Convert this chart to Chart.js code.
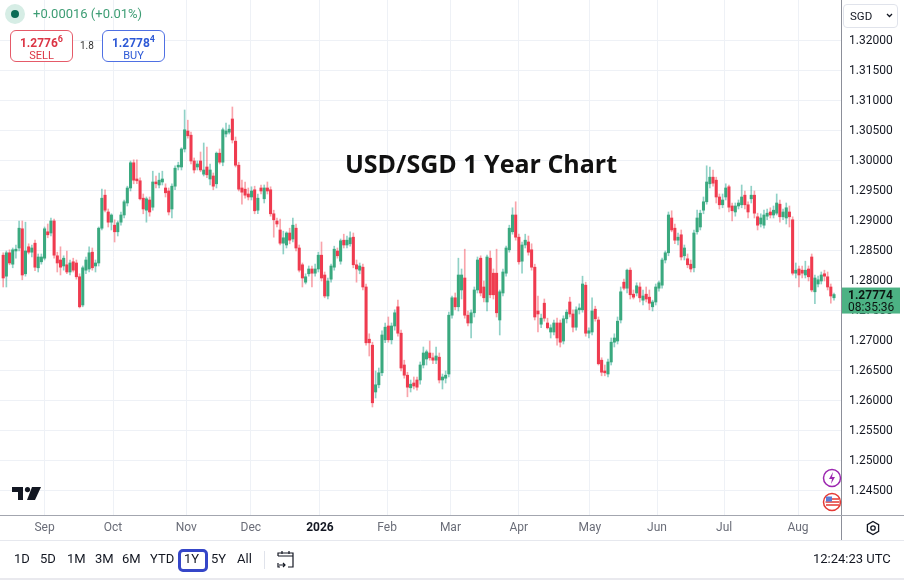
<!DOCTYPE html>
<html>
<head>
<meta charset="utf-8">
<title>USD/SGD 1 Year Chart</title>
<script src="https://cdn.jsdelivr.net/npm/chart.js@4.4.1/dist/chart.umd.min.js"></script>
<style>
  html, body { margin: 0; padding: 0; background: #fff; }
  body { font-family: Roboto, "Noto Sans", Arial, sans-serif; color: #131722; }
  #wrap { position: relative; width: 904px; height: 580px; overflow: hidden; }
  #chart { position: absolute; left: 0; top: 0; }
  .abs { position: absolute; white-space: nowrap; }
  .title { left: 0; width: 962px; top: 146px; text-align: center; font: 700 25px "Open Sans", "Noto Sans", sans-serif; color: #111; }
  .halo { left: 5px; top: 4px; width: 20px; height: 20px; border-radius: 50%; background: #d6ede5; }
  .dot { left: 11px; top: 10px; width: 8px; height: 8px; border-radius: 50%; background: #0b6b55; }
  .chg { left: 33px; top: 6px; font-size: 13px; color: #3d9d74; }
  .box { top: 30px; width: 61px; height: 30px; border-radius: 6px; background: #fff; text-align: center; }
  .box .p { margin-top: 3px; font-size: 12px; font-weight: 700; }
  .box .p sup { font-size: 9px; font-weight: 700; }
  .box .l { font-size: 11px; margin-top: -1px; }
  .sell { left: 10px; border: 1px solid #e55a68; color: #dc3545; }
  .buy { left: 102px; border: 1px solid #4f70e3; color: #2d59d6; }
  .spread { left: 80px; top: 40px; font-size: 10px; color: #333; }
  .ccy { left: 843px; top: 4px; width: 53px; height: 22px; border: 1px solid #e0e3eb; border-radius: 4px; font-size: 11.5px; }
  .ccy span { position: absolute; left: 6px; top: 4px; }
  .vline { left: 841px; top: 0; width: 1px; height: 540px; background: #8c8f99; }
  .hline { left: 0; top: 515px; width: 904px; height: 1px; background: #a3a6af; }
  .sep { left: 0; top: 540px; width: 904px; height: 1px; background: #e6e8ee; }
  .foot { left: 0; top: 578px; width: 904px; height: 2px; background: #e9e9ee; }
  .tb { top: 551px; font-size: 13px; color: #131722; }
  .range { left: 178px; top: 549px; width: 24px; height: 17px; border: 3px solid #3546c8; border-radius: 5px; }
  .tsep { left: 264px; top: 551px; width: 1px; height: 18px; background: #e0e3eb; }
  .clock { left: 813px; top: 551px; font-size: 13px; color: #131722; }
</style>
</head>
<body>
<div id="wrap">
  <canvas id="chart" width="904" height="540"></canvas>

  <div class="abs title">USD/SGD 1 Year Chart</div>

  <div class="abs halo"></div>
  <div class="abs dot"></div>
  <div class="abs chg">+0.00016 (+0.01%)</div>

  <div class="abs box sell"><div class="p">1.2776<sup>6</sup></div><div class="l">SELL</div></div>
  <div class="abs spread">1.8</div>
  <div class="abs box buy"><div class="p">1.2778<sup>4</sup></div><div class="l">BUY</div></div>

  <div class="abs ccy"><span>SGD</span>
    <svg class="abs" style="left:42px;top:8px" width="7" height="5" viewBox="0 0 7 5"><path d="M1 1l2.5 2.5L6 1" fill="none" stroke="#131722" stroke-width="1.3"/></svg>
  </div>

  <div class="abs vline"></div>
  <div class="abs hline"></div>
  <div class="abs sep"></div>
  <div class="abs foot"></div>

  <!-- logo -->
  <svg class="abs" style="left:12px;top:487px" width="30" height="14" viewBox="0 0 30 14">
    <path d="M0 0h11v13H6V5H0z" fill="#131722"/>
    <circle cx="15.5" cy="2.6" r="2.6" fill="#131722"/>
    <path d="M20 0h9l-6 13h-8z" fill="#131722"/>
  </svg>

  <!-- event icons -->
  <svg class="abs" style="left:822px;top:468px" width="20" height="20" viewBox="0 0 20 20">
    <circle cx="10" cy="10" r="8.5" fill="#fff" stroke="#9c27b0" stroke-width="1.5"/>
    <path d="M11 4l-4 7h3l-1 5 4-7h-3z" fill="#9c27b0"/>
  </svg>
  <svg class="abs" style="left:822px;top:492px" width="20" height="20" viewBox="0 0 20 20">
    <circle cx="10" cy="10" r="8.5" fill="#fff" stroke="#e53935" stroke-width="1.5"/>
    <path d="M4 7h13M3.5 10h14M4 13h13" stroke="#e53935" stroke-width="1.6"/>
    <rect x="4" y="4.5" width="6" height="5" fill="#5b7bd5"/>
  </svg>

  <!-- gear -->
  <svg class="abs" style="left:865px;top:520px" width="16" height="16" viewBox="0 0 16 16">
    <path d="M8 1.5l5.6 3.2v6.6L8 14.5l-5.6-3.2V4.7z" fill="none" stroke="#131722" stroke-width="1.3"/>
    <circle cx="8" cy="8" r="2.2" fill="none" stroke="#131722" stroke-width="1.3"/>
  </svg>

  <!-- toolbar -->
  <div class="abs tb" style="left:14px">1D</div>
  <div class="abs tb" style="left:40px">5D</div>
  <div class="abs tb" style="left:67px">1M</div>
  <div class="abs tb" style="left:95px">3M</div>
  <div class="abs tb" style="left:122px">6M</div>
  <div class="abs tb" style="left:150px">YTD</div>
  <div class="abs range"></div>
  <div class="abs tb" style="left:184px">1Y</div>
  <div class="abs tb" style="left:211px">5Y</div>
  <div class="abs tb" style="left:237px">All</div>
  <div class="abs tsep"></div>
  <svg class="abs" style="left:276px;top:550px" width="19" height="20" viewBox="0 0 19 20">
    <path d="M2 6V3h15v3M2 6h15v11h-5M2 13v4h2M6 1v3M13 1v3M3 15h6M7 13l2 2-2 2" fill="none" stroke="#131722" stroke-width="1.2"/>
  </svg>
  <div class="abs clock">12:24:23 UTC</div>
</div>

<script>
// daily candles, USD/SGD, one year
const opens = [
  1.2843,1.2808,1.2847,1.2828,1.2850,1.2855,1.2887,1.2812,1.2857,1.2848,
  1.2863,1.2822,1.2832,1.2838,1.2882,1.2880,1.2900,1.2842,1.2835,1.2825,
  1.2827,1.2815,1.2832,1.2830,1.2807,1.2760,1.2818,1.2820,1.2848,1.2825,
  1.2830,1.2888,1.2943,1.2915,1.2898,1.2893,1.2882,1.2898,1.2910,1.2930,
  1.2955,1.2997,1.2970,1.2967,1.2938,1.2918,1.2935,1.2923,1.2965,1.2960,
  1.2965,1.2955,1.2950,1.2920,1.2958,1.2990,1.2990,1.3020,1.3050,1.3043,
  1.3000,1.2990,1.3000,1.2978,1.2990,1.2970,1.2975,1.2962,1.3013,1.2998,
  1.3045,1.3048,1.3070,1.3033,1.2993,1.2955,1.2953,1.2945,1.2940,1.2952,
  1.2918,1.2955,1.2937,1.2955,1.2952,1.2912,1.2900,1.2885,1.2863,1.2860,
  1.2880,1.2870,1.2888,1.2855,1.2827,1.2798,1.2812,1.2820,1.2813,1.2820,
  1.2843,1.2810,1.2775,1.2803,1.2823,1.2850,1.2833,1.2868,1.2860,1.2862,
  1.2873,1.2827,1.2818,1.2823,1.2790,1.2703,1.2693,1.2615,1.2627,1.2647,
  1.2702,1.2725,1.2702,1.2725,1.2757,1.2713,1.2660,1.2643,1.2622,1.2630,
  1.2635,1.2635,1.2660,1.2670,1.2680,1.2672,1.2668,1.2673,1.2635,1.2638,
  1.2645,1.2743,1.2772,1.2757,1.2785,1.2805,1.2743,1.2730,1.2747,1.2785,
  1.2838,1.2790,1.2765,1.2838,1.2813,1.2813,1.2735,1.2780,1.2813,1.2852,
  1.2882,1.2910,1.2873,1.2833,1.2860,1.2865,1.2852,1.2823,1.2750,1.2728,
  1.2763,1.2730,1.2715,1.2715,1.2730,1.2730,1.2700,1.2737,1.2765,1.2745,
  1.2723,1.2752,1.2752,1.2793,1.2713,1.2715,1.2753,1.2735,1.2668,1.2650,
  1.2645,1.2665,1.2698,1.2700,1.2735,1.2798,1.2788,1.2818,1.2778,1.2780,
  1.2790,1.2768,1.2778,1.2773,1.2757,1.2765,1.2788,1.2793,1.2835,1.2847,
  1.2905,1.2888,1.2868,1.2877,1.2842,1.2837,1.2828,1.2822,1.2882,1.2890,
  1.2918,1.2932,1.2962,1.2973,1.2968,1.2940,1.2927,1.2940,1.2957,1.2925,
  1.2915,1.2925,1.2927,1.2943,1.2927,1.2937,1.2943,1.2907,1.2895,1.2893,
  1.2908,1.2915,1.2910,1.2913,1.2928,1.2907,1.2905,1.2915,1.2902,1.2813,
  1.2820,1.2818,1.2810,1.2820,1.2840,1.2782,1.2795,1.2800,1.2812,1.2807,
  1.2790,1.2772
];
const highs = [
  1.2847,1.2850,1.2852,1.2855,1.2860,1.2900,1.2900,1.2898,1.2862,1.2860,
  1.2868,1.2845,1.2845,1.2890,1.2895,1.2905,1.2903,1.2848,1.2857,1.2842,
  1.2850,1.2835,1.2838,1.2835,1.2812,1.2825,1.2840,1.2857,1.2855,1.2835,
  1.2890,1.2953,1.2952,1.2920,1.2912,1.2902,1.2900,1.2915,1.2935,1.2958,
  1.3000,1.3002,1.3002,1.2972,1.2945,1.2940,1.2940,1.2983,1.2975,1.2980,
  1.2983,1.2962,1.2955,1.2962,1.2992,1.2998,1.3022,1.3085,1.3068,1.3048,
  1.3005,1.3000,1.3015,1.3030,1.3023,1.2995,1.2980,1.3015,1.3020,1.3055,
  1.3063,1.3060,1.3090,1.3040,1.2998,1.2968,1.2965,1.2955,1.2957,1.2958,
  1.2945,1.2960,1.2960,1.2965,1.2957,1.2918,1.2905,1.2903,1.2883,1.2882,
  1.2888,1.2905,1.2895,1.2860,1.2830,1.2812,1.2825,1.2825,1.2828,1.2848,
  1.2865,1.2815,1.2805,1.2828,1.2858,1.2855,1.2870,1.2878,1.2875,1.2882,
  1.2880,1.2835,1.2830,1.2828,1.2795,1.2712,1.2698,1.2650,1.2655,1.2717,
  1.2730,1.2740,1.2730,1.2752,1.2768,1.2718,1.2668,1.2648,1.2635,1.2640,
  1.2640,1.2665,1.2690,1.2685,1.2700,1.2680,1.2690,1.2680,1.2645,1.2650,
  1.2748,1.2775,1.2780,1.2838,1.2820,1.2853,1.2750,1.2752,1.2790,1.2840,
  1.2842,1.2800,1.2843,1.2850,1.2820,1.2853,1.2785,1.2820,1.2858,1.2893,
  1.2922,1.2932,1.2878,1.2865,1.2878,1.2875,1.2862,1.2828,1.2775,1.2745,
  1.2770,1.2738,1.2727,1.2735,1.2738,1.2735,1.2742,1.2752,1.2773,1.2752,
  1.2757,1.2762,1.2808,1.2798,1.2722,1.2772,1.2758,1.2740,1.2672,1.2660,
  1.2670,1.2705,1.2712,1.2740,1.2790,1.2803,1.2820,1.2822,1.2785,1.2797,
  1.2797,1.2785,1.2790,1.2785,1.2768,1.2795,1.2800,1.2838,1.2850,1.2915,
  1.2917,1.2895,1.2880,1.2885,1.2860,1.2845,1.2835,1.2885,1.2918,1.2918,
  1.2940,1.2992,1.2990,1.2985,1.2973,1.2945,1.2945,1.2962,1.2960,1.2930,
  1.2930,1.2935,1.2960,1.2950,1.2932,1.2958,1.2950,1.2913,1.2912,1.2918,
  1.2920,1.2922,1.2925,1.2945,1.2935,1.2920,1.2930,1.2925,1.2907,1.2830,
  1.2825,1.2825,1.2833,1.2825,1.2845,1.2810,1.2808,1.2815,1.2818,1.2815,
  1.2795,1.2780
];
const lows = [
  1.2790,1.2790,1.2827,1.2822,1.2838,1.2850,1.2802,1.2808,1.2845,1.2840,
  1.2817,1.2815,1.2828,1.2835,1.2872,1.2875,1.2838,1.2815,1.2810,1.2818,
  1.2812,1.2810,1.2815,1.2803,1.2755,1.2757,1.2812,1.2815,1.2818,1.2815,
  1.2825,1.2885,1.2915,1.2890,1.2885,1.2865,1.2875,1.2893,1.2905,1.2925,
  1.2950,1.2962,1.2962,1.2935,1.2912,1.2898,1.2908,1.2918,1.2955,1.2955,
  1.2960,1.2940,1.2910,1.2905,1.2952,1.2985,1.2985,1.3015,1.3038,1.2995,
  1.2980,1.2985,1.2982,1.2975,1.2972,1.2960,1.2952,1.2955,1.2995,1.2992,
  1.3040,1.3045,1.3030,1.2990,1.2950,1.2928,1.2938,1.2935,1.2935,1.2912,
  1.2912,1.2945,1.2930,1.2945,1.2908,1.2873,1.2890,1.2860,1.2845,1.2855,
  1.2862,1.2865,1.2850,1.2815,1.2790,1.2795,1.2808,1.2790,1.2808,1.2815,
  1.2800,1.2772,1.2770,1.2798,1.2818,1.2838,1.2828,1.2855,1.2855,1.2858,
  1.2822,1.2798,1.2812,1.2785,1.2693,1.2675,1.2590,1.2605,1.2622,1.2642,
  1.2697,1.2698,1.2695,1.2718,1.2708,1.2650,1.2638,1.2607,1.2615,1.2620,
  1.2618,1.2628,1.2655,1.2660,1.2668,1.2662,1.2662,1.2630,1.2620,1.2630,
  1.2640,1.2738,1.2752,1.2750,1.2770,1.2738,1.2725,1.2705,1.2740,1.2780,
  1.2775,1.2765,1.2750,1.2772,1.2770,1.2740,1.2710,1.2775,1.2808,1.2848,
  1.2878,1.2868,1.2828,1.2813,1.2855,1.2843,1.2818,1.2735,1.2715,1.2722,
  1.2733,1.2720,1.2705,1.2710,1.2693,1.2690,1.2695,1.2730,1.2740,1.2715,
  1.2718,1.2745,1.2748,1.2708,1.2705,1.2710,1.2733,1.2660,1.2642,1.2642,
  1.2640,1.2660,1.2690,1.2695,1.2730,1.2785,1.2780,1.2770,1.2770,1.2775,
  1.2765,1.2760,1.2765,1.2752,1.2750,1.2760,1.2783,1.2788,1.2830,1.2842,
  1.2882,1.2862,1.2860,1.2835,1.2835,1.2822,1.2815,1.2815,1.2878,1.2885,
  1.2912,1.2928,1.2955,1.2958,1.2930,1.2920,1.2922,1.2935,1.2915,1.2900,
  1.2908,1.2920,1.2922,1.2920,1.2905,1.2930,1.2905,1.2885,1.2890,1.2888,
  1.2902,1.2905,1.2905,1.2910,1.2898,1.2902,1.2895,1.2890,1.2810,1.2805,
  1.2790,1.2805,1.2805,1.2800,1.2782,1.2762,1.2790,1.2795,1.2800,1.2785,
  1.2763,1.2768
];
const closes = [
  1.2805,1.2847,1.2830,1.2852,1.2853,1.2888,1.2810,1.2850,1.2848,1.2855,
  1.2823,1.2840,1.2840,1.2887,1.2877,1.2900,1.2843,1.2830,1.2823,1.2838,
  1.2815,1.2830,1.2818,1.2807,1.2757,1.2822,1.2835,1.2847,1.2822,1.2830,
  1.2888,1.2938,1.2918,1.2898,1.2910,1.2882,1.2897,1.2910,1.2932,1.2955,
  1.2997,1.2968,1.2967,1.2937,1.2920,1.2937,1.2915,1.2965,1.2962,1.2968,
  1.2970,1.2947,1.2915,1.2958,1.2988,1.2993,1.3020,1.3052,1.3042,1.3000,
  1.2985,1.2995,1.2985,1.2985,1.2977,1.2985,1.2958,1.3013,1.2998,1.3052,
  1.3050,1.3053,1.3035,1.2993,1.2953,1.2948,1.2943,1.2940,1.2950,1.2917,
  1.2938,1.2950,1.2955,1.2950,1.2912,1.2902,1.2895,1.2863,1.2872,1.2880,
  1.2868,1.2893,1.2855,1.2818,1.2805,1.2807,1.2820,1.2813,1.2820,1.2843,
  1.2805,1.2775,1.2800,1.2825,1.2853,1.2842,1.2867,1.2860,1.2868,1.2872,
  1.2827,1.2820,1.2825,1.2790,1.2697,1.2697,1.2597,1.2627,1.2647,1.2710,
  1.2723,1.2702,1.2725,1.2747,1.2713,1.2655,1.2643,1.2623,1.2628,1.2625,
  1.2623,1.2660,1.2680,1.2682,1.2672,1.2668,1.2675,1.2635,1.2640,1.2643,
  1.2743,1.2772,1.2757,1.2810,1.2810,1.2743,1.2730,1.2747,1.2785,1.2835,
  1.2780,1.2772,1.2840,1.2777,1.2777,1.2747,1.2782,1.2815,1.2855,1.2888,
  1.2910,1.2873,1.2832,1.2860,1.2868,1.2848,1.2823,1.2740,1.2745,1.2738,
  1.2738,1.2722,1.2722,1.2730,1.2705,1.2698,1.2737,1.2748,1.2745,1.2723,
  1.2752,1.2755,1.2795,1.2713,1.2717,1.2750,1.2737,1.2662,1.2648,1.2647,
  1.2665,1.2698,1.2705,1.2733,1.2782,1.2788,1.2818,1.2777,1.2773,1.2792,
  1.2772,1.2775,1.2770,1.2763,1.2765,1.2790,1.2797,1.2835,1.2847,1.2910,
  1.2885,1.2868,1.2873,1.2840,1.2855,1.2827,1.2820,1.2880,1.2905,1.2913,
  1.2932,1.2965,1.2973,1.2963,1.2940,1.2927,1.2935,1.2955,1.2923,1.2917,
  1.2925,1.2930,1.2940,1.2927,1.2915,1.2943,1.2913,1.2893,1.2905,1.2910,
  1.2913,1.2910,1.2918,1.2930,1.2907,1.2915,1.2922,1.2907,1.2813,1.2818,
  1.2810,1.2813,1.2818,1.2807,1.2785,1.2805,1.2802,1.2810,1.2808,1.2790,
  1.2775,1.27774
];

// month labels on the time axis (position = candle index)
const monthLabels = ['Sep', 'Oct', 'Nov', 'Dec', '2026', 'Feb', 'Mar', 'Apr', 'May', 'Jun', 'Jul', 'Aug'];
const monthTickIndex = [13, 34.5, 57.5, 77.8, 99.5, 120.6, 140.5, 162, 184.3, 205.4, 226.5, 249.7];
const lastTime = '08:35:36';

const upColor = '#3aa97f';
const downColor = '#ef3b4f';
const upWick = 'rgba(8,153,129,0.45)';
const downWick = 'rgba(242,54,69,0.45)';
const gridColor = '#eef1f6';

const isUp = closes.map((c, i) => c >= opens[i]);

const wickData = closes.map((c, i) => ({ x: i, y: [lows[i], highs[i]] }));
const bodyData = closes.map((c, i) => ({ x: i, y: [opens[i], c] }));

const lastPriceTag = {
  id: 'lastPriceTag',
  afterDraw(chart) {
    const { ctx, chartArea, scales: { y } } = chart;
    const last = closes[closes.length - 1];
    const py = y.getPixelForValue(last);
    ctx.save();
    ctx.fillStyle = '#4cb284';
    ctx.fillRect(chartArea.right + 1, py - 7, 58, 26);
    ctx.fillStyle = '#0c1712';
    ctx.textBaseline = 'middle';
    ctx.font = 'bold 12px Roboto';
    ctx.fillText(last.toFixed(5), chartArea.right + 7, py + 1);
    ctx.font = '12px Roboto';
    ctx.fillText(lastTime, chartArea.right + 7, py + 13);
    ctx.restore();
  }
};

new Chart(document.getElementById('chart'), {
  type: 'bar',
  data: {
    datasets: [{
      label: 'wick',
      data: wickData,
      backgroundColor: isUp.map(u => u ? upWick : downWick),
      barThickness: 1,
      grouped: false,
      order: 2,
      borderWidth: 0
    }, {
      label: 'body',
      data: bodyData,
      backgroundColor: isUp.map(u => u ? upColor : downColor),
      barThickness: 2.4,
      minBarLength: 1,
      grouped: false,
      order: 1,
      borderWidth: 0
    }]
  },
  options: {
    responsive: false,
    animation: false,
    layout: { padding: 0 },
    plugins: {
      legend: { display: false },
      tooltip: { enabled: false }
    },
    scales: {
      x: {
        type: 'linear',
        offset: false,
        min: -1,
        max: 263.2,
        grid: { color: gridColor, drawTicks: false, offset: false },
        border: { display: false },
        afterBuildTicks: (scale) => {
          scale.ticks = monthTickIndex.map(v => ({ value: v }));
        },
        afterFit: (scale) => {
          scale.height = 25;
          scale.paddingLeft = 0;
          scale.paddingRight = 0;
        },
        ticks: {
          autoSkip: false,
          maxRotation: 0,
          padding: 6,
          color: (c) => monthLabels[c.index] === '2026' ? '#131722' : '#6a6d78',
          font: (c) => ({
            family: 'Roboto',
            size: 12,
            weight: monthLabels[c.index] === '2026' ? 'bold' : 'normal'
          }),
          callback: (value, index) => monthLabels[index]
        }
      },
      y: {
        position: 'right',
        min: 1.241,
        max: 1.32683,
        grid: {
          color: (c) => c.tick && c.tick.value > 1.3225 ? 'rgba(0,0,0,0)' : gridColor,
          drawTicks: false
        },
        border: { display: false },
        afterFit: (scale) => {
          scale.width = 63;
          scale.paddingTop = 0;
          scale.paddingBottom = 0;
        },
        ticks: {
          stepSize: 0.005,
          includeBounds: false,
          padding: 8,
          color: '#131722',
          font: { family: 'Roboto', size: 12 },
          callback: (v) => v > 1.3225 ? '' : v.toFixed(5)
        }
      }
    }
  },
  plugins: [lastPriceTag]
});
</script>
</body>
</html>
